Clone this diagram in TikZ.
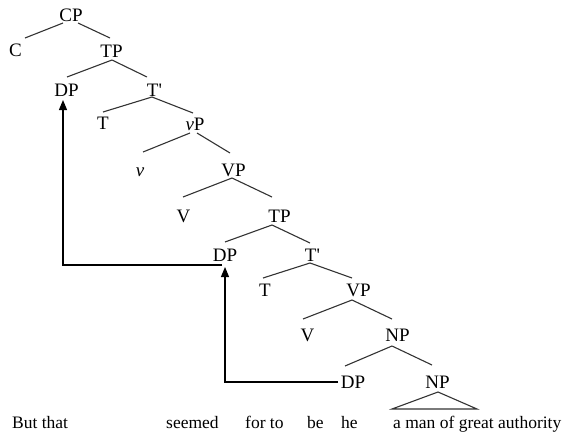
\documentclass[tikz,border=0pt]{standalone}
\usepackage{fontspec}
\setmainfont{Liberation Serif}[Ligatures=TeXOff]
\usetikzlibrary{calc,arrows.meta}
\begin{document}
\begin{tikzpicture}[x=1pt,y=-1pt,
  lab/.style={anchor=base,inner sep=0pt,font=\fontsize{19}{22}\selectfont},
  word/.style={anchor=base west,inner sep=0pt,font=\fontsize{17.5}{21}\selectfont},
  branch/.style={draw=black!80,line width=1.1pt},
  move/.style={draw=black,line width=1.1pt,-{Triangle[length=10pt,width=8pt]}}]
\useasboundingbox (0,0) rectangle (565,434);
% nodes
\node[lab] (CP)  at (71,21)    {CP};
\node[lab] (C)   at (15.5,56)  {C};
\node[lab] (TPa) at (111.5,57) {TP};
\node[lab] (DPa) at (66.5,96)  {DP};
\node[lab] (Tba) at (154.5,96) {T'};
\node[lab] (Ta)  at (103,129)  {T};
\node[lab] (vP)  at (195,130)  {\itshape v\upshape P};
\node[lab] (v)   at (140,176)  {\itshape v};
\node[lab] (VPa) at (233.5,176){VP};
\node[lab] (Va)  at (183.5,222){V};
\node[lab] (TPb) at (279.5,222){TP};
\node[lab] (DPb) at (225,261)  {DP};
\node[lab] (Tbb) at (312.5,261){T'};
\node[lab] (Tb)  at (265,296)  {T};
\node[lab] (VPb) at (358.5,296){VP};
\node[lab] (Vb)  at (307.5,341){V};
\node[lab] (NPa) at (397.5,341){NP};
\node[lab] (DPc) at (353,388)  {DP};
\node[lab] (NPb) at (437.5,388){NP};
% words
\node[word] (w1) at (12,428)  {But that};
\node[word] (w2) at (166,428) {seemed};
\node[word] (w3) at (245,428) {for to};
\node[word] (w4) at (307,428) {be};
\node[word] (w5) at (341,428) {he};
\node[word] (w6) at (393,428) {a man of great authority};
% branches
\draw[branch] ($(CP.base)+(-8,2)$) -- ($(C.base)+(9.5,-18)$);
\draw[branch] ($(CP.base)+(7,2)$) -- ($(TPa.base)+(-1.5,-19)$);
\draw[branch] ($(TPa.base)+(0.5,3)$) -- ($(DPa.base)+(0.5,-19)$);
\draw[branch] ($(TPa.base)+(0.5,3)$) -- ($(Tba.base)+(-7.5,-19)$);
\draw[branch] ($(Tba.base)+(-2.5,1)$) -- ($(Ta.base)+(0,-17)$);
\draw[branch] ($(Tba.base)+(-2.5,1)$) -- ($(vP.base)+(-2,-17)$);
\draw[branch] ($(vP.base)+(-5,3)$) -- ($(v.base)+(3,-24)$);
\draw[branch] ($(vP.base)+(2,3)$) -- ($(VPa.base)+(-3.5,-23)$);
\draw[branch] ($(VPa.base)+(-1.5,2)$) -- ($(Va.base)+(-0.5,-25)$);
\draw[branch] ($(VPa.base)+(-1.5,2)$) -- ($(TPb.base)+(-7.5,-25)$);
\draw[branch] ($(TPb.base)+(-7.5,3)$) -- ($(DPb.base)+(0,-19)$);
\draw[branch] ($(TPb.base)+(-7.5,3)$) -- ($(Tbb.base)+(-2.5,-18)$);
\draw[branch] ($(Tbb.base)+(-2.5,2)$) -- ($(Tb.base)+(-2,-18)$);
\draw[branch] ($(Tbb.base)+(-2.5,2)$) -- ($(VPb.base)+(-6.5,-18)$);
\draw[branch] ($(VPb.base)+(-6.5,4)$) -- ($(Vb.base)+(-4.5,-22)$);
\draw[branch] ($(VPb.base)+(-6.5,4)$) -- ($(NPa.base)+(-5.5,-22)$);
\draw[branch] ($(NPa.base)+(-5.5,5)$) -- ($(DPc.base)+(-8,-22)$);
\draw[branch] ($(NPa.base)+(-5.5,5)$) -- ($(NPb.base)+(-5.5,-23)$);
\draw[branch] ($(NPb.base)+(0.5,4)$) -- ($(NPb.base)+(-45.5,21)$) -- ($(NPb.base)+(39.5,21)$) -- cycle;
% movement arrows
\draw[move] ($(DPb.base)+(-3,4)$) -| ($(DPa.base)+(-3.5,4)$);
\draw[move] ($(DPc.base)+(-15,-6)$) -| ($(DPb.base)+(0,6)$);
\end{tikzpicture}
\end{document}
